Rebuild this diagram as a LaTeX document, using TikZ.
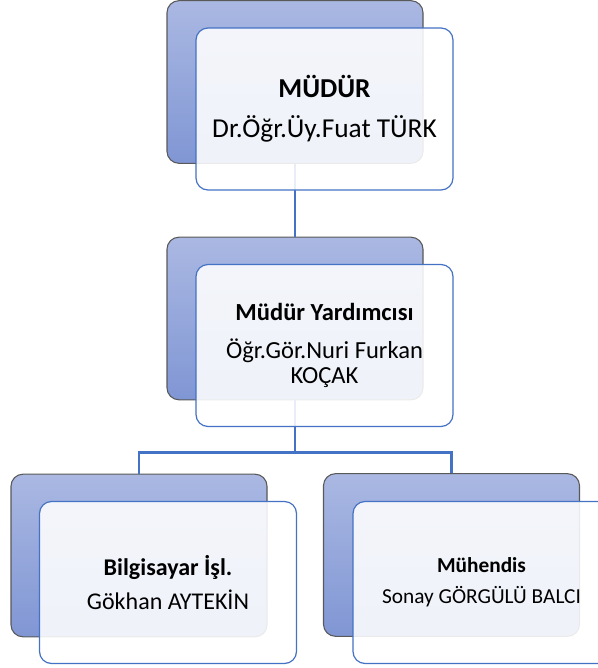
\documentclass[tikz,border=0pt]{standalone}
\usepackage{fontspec}
\setmainfont{Carlito}
\usetikzlibrary{positioning}
\definecolor{kutuust}{RGB}{170,184,226}
\definecolor{kutualt}{RGB}{128,150,212}
\definecolor{mavi}{RGB}{68,114,196}
\tikzset{
  dietro/.style={rounded corners=9pt, draw=black!65, line width=0.8pt, top color=kutuust, bottom color=kutualt, minimum width=192pt, minimum height=122pt, inner sep=0pt},
  davanti/.style={rounded corners=9pt, draw=mavi, line width=0.9pt, fill=white, fill opacity=0.88, text opacity=1, minimum width=192.75pt, minimum height=121.5pt, align=center, inner sep=0pt},
  linea/.style={draw=mavi, line width=2.2pt}
}
\begin{document}
\begin{tikzpicture}[x=0.75pt,y=-0.75pt]
    %organigramma: 1 nodo in alto, 1 in mezzo e 2 nodi in basso
    \useasboundingbox (0,0) rectangle (598,668);
    \node[dietro] (1s) at (295,82) {};
    \node[dietro] (2s) at (295,318.5) {};
    \node[dietro] (3s) at (139,555.5) {};
    \node[dietro] (4s) at (451.5,555) {};

    \draw[linea] (1s) -- (2s);
    \draw[linea] (2s.south) -- ++(0,52) -| (3s.north);
    \draw[linea] (2s.south) -- ++(0,52) -| (4s.north);

    \node[davanti, font=\fontsize{20.5}{24}\selectfont] (1) at (324.5,109) {\textbf{MÜDÜR}\\[6pt]Dr.Öğr.Üy.Fuat TÜRK};
    \node[davanti, font=\fontsize{18.4}{19}\selectfont] (2) at (324.5,345.5) {\textbf{Müdür Yardımcısı}\\[9pt]Öğr.Gör.Nuri Furkan\\KOÇAK};
    \node[davanti, font=\fontsize{18}{22}\selectfont] (3) at (168,582.5) {\textbf{Bilgisayar İşl.}\\[4pt]Gökhan AYTEKİN};
    \node[davanti, font=\fontsize{16}{20}\selectfont] (4) at (481.5,582.5) {\textbf{Mühendis}\\[3pt]Sonay GÖRGÜLÜ BALCI};

\end{tikzpicture}
\end{document}
